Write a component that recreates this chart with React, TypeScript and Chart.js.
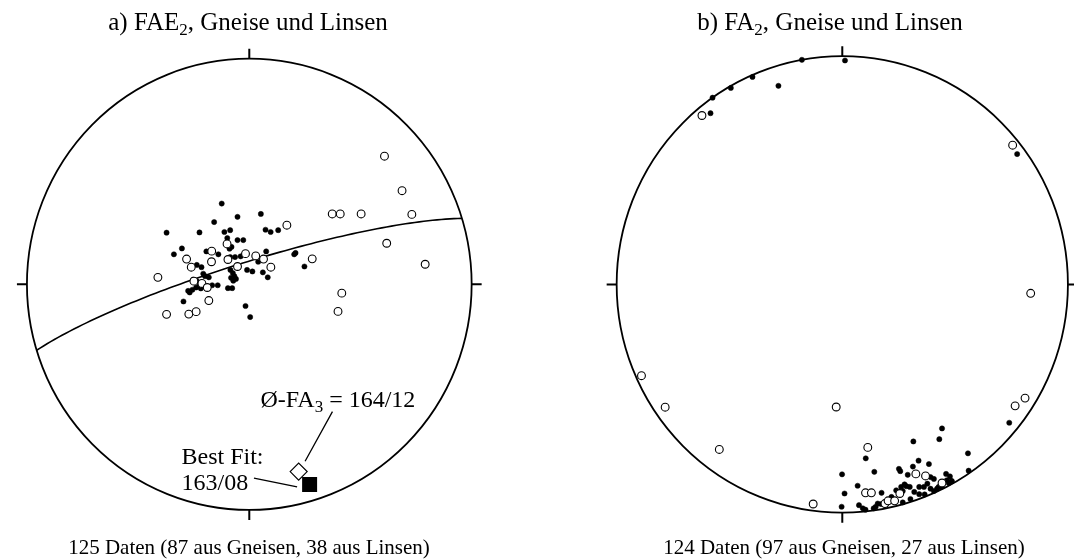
import React, { useEffect, useRef } from "react";
import { Chart, registerables } from "chart.js";

Chart.register(...registerables);

type P = [number, number];

// Equal-area net coordinates: primitive circle radius = 100, centre = (0, 0), north = +y
const aGneise: P[] = [
  [-12.4, 35.8], [-5.3, 29.9], [5.2, 31.2], [-15.8, 27.6], [-37.2, 22.9], [-22.4, 23.0],
  [-11.2, 23.2], [-8.6, 24.0], [7.3, 24.2], [9.6, 23.2], [13.0, 24.0], [-9.9, 20.5],
  [-5.3, 19.6], [-2.7, 19.6], [-30.3, 15.9], [-33.9, 13.3], [-19.3, 14.6], [-13.9, 13.3],
  [-8.9, 15.8], [-8.0, 16.6], [-8.6, 12.1], [-6.4, 12.1], [-3.9, 12.4], [7.6, 14.6],
  [20.2, 13.3], [20.8, 13.9], [4.0, 10.0], [-23.6, 8.6], [-21.5, 7.6], [24.8, 7.9],
  [-1.0, 6.4], [1.4, 5.7], [-8.5, 6.4], [-7.4, 5.0], [-6.7, 3.6], [-8.2, 2.9],
  [-6.0, 2.4], [-7.2, 1.6], [6.1, 5.3], [8.3, 3.1], [-18.2, 3.1], [-25.3, 2.1],
  [-23.6, 1.4], [-20.7, 4.7], [-19.9, 3.6], [-16.7, -0.4], [-14.2, -0.4], [-9.6, -1.7],
  [-7.7, -1.7], [-27.5, -2.9], [-25.6, -2.4], [-23.9, -1.4], [-22.4, -0.7], [-26.8, -3.6],
  [-29.6, -7.6], [-1.7, -9.6], [0.4, -14.5], [-21.8, -1.8],
];
const aLinsen: P[] = [
  [16.9, 26.2], [-16.9, 14.7], [-10.0, 17.9], [-28.2, 11.2], [-26.1, 7.6], [-17.0, 10.0],
  [-9.6, 11.0], [-1.7, 13.6], [2.9, 12.6], [6.4, 11.2], [9.7, 7.6], [-5.3, 7.9],
  [28.3, 11.3], [-41.1, 3.1], [-24.9, 1.4], [-21.3, 0.4], [-18.9, -1.4], [-18.2, -7.2],
  [-37.2, -13.3], [-27.2, -13.2], [-23.9, -12.1], [60.8, 56.8], [68.7, 41.5], [37.3, 31.2],
  [40.9, 31.2], [50.3, 31.2], [73.1, 31.0], [61.8, 18.2], [79.1, 8.9], [41.6, -3.9],
  [39.9, -12.0],
];
const bGneise: P[] = [
  [-57.5, 81.8], [-49.4, 86.1], [-39.8, 90.9], [-17.9, 98.4], [1.2, 98.1], [-28.3, 87.0],
  [-58.4, 75.0], [77.5, 57.1], [74.0, -60.6],
  [10.4, -76.2], [-0.1, -83.2], [14.2, -82.1], [6.8, -88.2], [17.4, -91.3], [1.0, -91.6],
  [-0.3, -97.4], [7.4, -96.7], [9.1, -98.1], [10.3, -98.7], [15.7, -96.0], [17.2, -96.2],
  [14.8, -97.4], [13.9, -98.1], [21.8, -93.1], [23.9, -90.2], [26.1, -88.7], [27.6, -87.6],
  [28.4, -88.4], [26.8, -90.5], [26.8, -95.5], [30.2, -94.0], [46.0, -83.0], [47.7, -84.1],
  [48.5, -86.1], [46.3, -85.8], [48.5, -86.3], [47.2, -87.0], [25.1, -80.8], [25.7, -81.8],
  [31.3, -79.8], [33.8, -77.2], [38.4, -78.7], [31.5, -68.8], [43.0, -67.8], [44.2, -63.1],
  [55.7, -74.0], [56.0, -81.6], [29.0, -83.4], [39.1, -84.4], [40.6, -85.2], [37.7, -87.3],
  [36.2, -88.7], [39.1, -89.5], [42.0, -89.5], [44.1, -88.6], [29.9, -88.7], [31.9, -90.9],
  [34.1, -88.7], [34.1, -91.9], [36.5, -92.0], [40.6, -90.5], [42.7, -88.7],
];
const bLinsen: P[] = [
  [-62.2, 74.0], [75.5, 61.0], [83.5, -3.9], [76.6, -53.2], [81.0, -49.8], [-89.0, -40.0],
  [-78.5, -53.8], [-54.5, -72.3], [-2.7, -53.7], [11.3, -71.4], [10.3, -91.3], [12.9, -91.3],
  [-12.9, -96.2], [18.9, -96.0], [20.3, -94.8], [23.2, -94.8], [25.5, -91.6], [32.6, -83.0],
  [36.9, -83.9], [44.2, -87.0],
];

// Best-fit pole of the girdle (trend/plunge) and the FA3 axis mark
const aBestFit = { trend: 163, plunge: 8 };
const aFA3Mark: P = [22.2, -83.0];

const titlesMain = ["a) FAE", "b) FA"];
const titlesSub = ["2", "2"];
const titlesRest = [", Gneise und Linsen", ", Gneise und Linsen"];
const captions = [
  "125 Daten (87 aus Gneisen, 38 aus Linsen)",
  "124 Daten (97 aus Gneisen, 27 aus Linsen)",
];
const fa3Label = ["Ø-FA", "3", " = 164/12"];
const bestFitLabel = ["Best Fit:", "163/08"];

// ---- layout (pixels) ----
const W = 1074;
const H = 560;
const HALF = 537;
const FONT = '"Liberation Serif", "Times New Roman", serif';
const NETS = [
  { left: 0, cx: 248.5, cy: 284.5, rx: 231.5, ry: 234.5 },
  { left: HALF, cx: 843 - HALF, cy: 284.5, rx: 230, ry: 232.5 },
];

const D2R = Math.PI / 180;
function project(trend: number, plunge: number) {
  const R = 100 * Math.SQRT2 * Math.sin(((90 - plunge) / 2) * D2R);
  return { x: R * Math.sin(trend * D2R), y: R * Math.cos(trend * D2R) };
}
// cyclographic trace of the plane whose pole is (trend, plunge)
function girdle(poleTrend: number, polePlunge: number) {
  const st = (poleTrend + 90) * D2R;
  const s = [Math.sin(st), Math.cos(st), 0];
  const dt = (poleTrend + 180) * D2R;
  const dp = (90 - polePlunge) * D2R;
  const d = [Math.cos(dp) * Math.sin(dt), Math.cos(dp) * Math.cos(dt), -Math.sin(dp)];
  const pts: { x: number; y: number }[] = [];
  for (let a = 0; a <= 180; a += 2) {
    const c = Math.cos(a * D2R);
    const sn = Math.sin(a * D2R);
    const E = c * s[0] + sn * d[0];
    const N = c * s[1] + sn * d[1];
    const U = c * s[2] + sn * d[2];
    const h = Math.hypot(E, N) || 1;
    const R = 100 * Math.sqrt(Math.max(0, 1 + U));
    pts.push({ x: (R * E) / h, y: (R * N) / h });
  }
  return pts;
}

const toXY = (arr: P[]) => arr.map(([x, y]) => ({ x, y }));

const netPlugin = {
  id: "net",
  beforeDatasetsDraw(chart: any) {
    const { ctx, scales } = chart;
    const x = scales.x;
    const y = scales.y;
    const cx = x.getPixelForValue(0);
    const cy = y.getPixelForValue(0);
    const rx = x.getPixelForValue(100) - cx;
    const ry = cy - y.getPixelForValue(100);
    ctx.save();
    ctx.strokeStyle = "#000";
    ctx.lineWidth = 1.8;
    ctx.beginPath();
    ctx.ellipse(cx, cy, rx, ry, 0, 0, Math.PI * 2);
    ctx.stroke();
    const t = 10;
    ctx.lineWidth = 2;
    ctx.beginPath();
    ctx.moveTo(cx, cy - ry);
    ctx.lineTo(cx, cy - ry - t);
    ctx.moveTo(cx, cy + ry);
    ctx.lineTo(cx, cy + ry + t);
    ctx.moveTo(cx - rx, cy);
    ctx.lineTo(cx - rx - t, cy);
    ctx.moveTo(cx + rx, cy);
    ctx.lineTo(cx + rx + t, cy);
    ctx.stroke();
    ctx.restore();
  },
};

const annotPlugin = {
  id: "annot",
  beforeDatasetsDraw(chart: any) {
    const { ctx, scales } = chart;
    const px = (v: number) => scales.x.getPixelForValue(v);
    const py = (v: number) => scales.y.getPixelForValue(v);
    ctx.save();
    ctx.strokeStyle = "#000";
    ctx.lineWidth = 1.3;
    ctx.beginPath();
    ctx.moveTo(px(37.4), py(-56.4));
    ctx.lineTo(px(25.1), py(-78.4));
    ctx.moveTo(px(2.1), py(-85.9));
    ctx.lineTo(px(21.5), py(-89.8));
    ctx.stroke();

    ctx.fillStyle = "#000";
    const f = 24;
    ctx.textBaseline = "alphabetic";
    ctx.textAlign = "left";
    // Ø-FA3 = 164/12
    let xx = px(5.0);
    const by = py(-54.4);
    ctx.font = `${f}px ${FONT}`;
    ctx.fillText(fa3Label[0], xx, by);
    xx += ctx.measureText(fa3Label[0]).width;
    ctx.font = `${Math.round(f * 0.7)}px ${FONT}`;
    ctx.fillText(fa3Label[1], xx, by + f * 0.22);
    xx += ctx.measureText(fa3Label[1]).width;
    ctx.font = `${f}px ${FONT}`;
    ctx.fillText(fa3Label[2], xx, by);
    // Best Fit
    ctx.fillText(bestFitLabel[0], px(-30.5), py(-79.5));
    ctx.fillText(bestFitLabel[1], px(-30.5), py(-91.0));
    ctx.restore();
  },
};

function makeConfig(i: number) {
  const n = NETS[i];
  const kx = n.rx / 100;
  const ky = n.ry / 100;
  const datasets: any[] = [];
  const gn = i === 0 ? aGneise : bGneise;
  const li = i === 0 ? aLinsen : bLinsen;
  if (i === 0) {
    datasets.push({
      label: "Girdle",
      data: girdle(aBestFit.trend, aBestFit.plunge),
      showLine: true,
      borderColor: "#000",
      borderWidth: 1.6,
      pointRadius: 0,
      order: 5,
    });
  }
  datasets.push({
    label: "Gneise",
    data: toXY(gn),
    pointRadius: 2.6,
    pointBackgroundColor: "#000",
    pointBorderColor: "#000",
    pointBorderWidth: 0.5,
    order: 3,
  });
  datasets.push({
    label: "Linsen",
    data: toXY(li),
    pointRadius: 3.9,
    pointBackgroundColor: "#fff",
    pointBorderColor: "#000",
    pointBorderWidth: 1.1,
    order: 2,
  });
  if (i === 0) {
    datasets.push({
      label: "FA3",
      data: toXY([aFA3Mark]),
      pointStyle: "rectRot",
      pointRadius: 8.5,
      pointBackgroundColor: "#fff",
      pointBorderColor: "#000",
      pointBorderWidth: 1.2,
      order: 1,
    });
    datasets.push({
      label: "Best Fit",
      data: [project(aBestFit.trend, aBestFit.plunge)],
      pointStyle: "rect",
      pointRadius: 10.6,
      pointBackgroundColor: "#000",
      pointBorderColor: "#000",
      pointBorderWidth: 0,
      order: 0,
    });
  }
  return {
    type: "scatter" as const,
    data: { datasets },
    options: {
      animation: false as const,
      responsive: false,
      maintainAspectRatio: false,
      layout: { padding: 0 },
      events: [],
      plugins: { legend: { display: false }, tooltip: { enabled: false }, title: { display: false } },
      scales: {
        x: { type: "linear" as const, display: false, min: -n.cx / kx, max: (HALF - n.cx) / kx },
        y: { type: "linear" as const, display: false, min: -(H - n.cy) / ky, max: n.cy / ky },
      },
    },
    plugins: i === 0 ? [netPlugin, annotPlugin] : [netPlugin],
  };
}

function Net({ index }: { index: number }) {
  const ref = useRef<HTMLCanvasElement | null>(null);
  useEffect(() => {
    if (!ref.current) return;
    const chart = new Chart(ref.current, makeConfig(index) as any);
    return () => chart.destroy();
  }, [index]);
  const n = NETS[index];
  return (
    <canvas
      ref={ref}
      width={HALF}
      height={H}
      style={{ position: "absolute", left: n.left, top: 0, width: HALF, height: H }}
    />
  );
}

const titleCenters = [248, 830];
const captionCenters = [249, 844];

export default function App() {
  return (
    <div style={{ position: "fixed", left: 0, top: 0, width: W, height: H, background: "#fff", overflow: "hidden" }}>
      <Net index={0} />
      <Net index={1} />
      {[0, 1].map((i) => (
        <div
          key={"t" + i}
          style={{
            position: "absolute",
            left: titleCenters[i] - 250,
            width: 500,
            top: 9,
            textAlign: "center",
            fontFamily: FONT,
            fontSize: 25,
            lineHeight: "25px",
            whiteSpace: "nowrap",
            color: "#000",
          }}
        >
          {titlesMain[i]}
          <span style={{ fontSize: 17, position: "relative", top: 5 }}>{titlesSub[i]}</span>
          {titlesRest[i]}
        </div>
      ))}
      {[0, 1].map((i) => (
        <div
          key={"c" + i}
          style={{
            position: "absolute",
            left: captionCenters[i] - 250,
            width: 500,
            top: 537,
            textAlign: "center",
            fontFamily: FONT,
            fontSize: 21,
            lineHeight: "21px",
            whiteSpace: "nowrap",
            color: "#000",
          }}
        >
          {captions[i]}
        </div>
      ))}
    </div>
  );
}
